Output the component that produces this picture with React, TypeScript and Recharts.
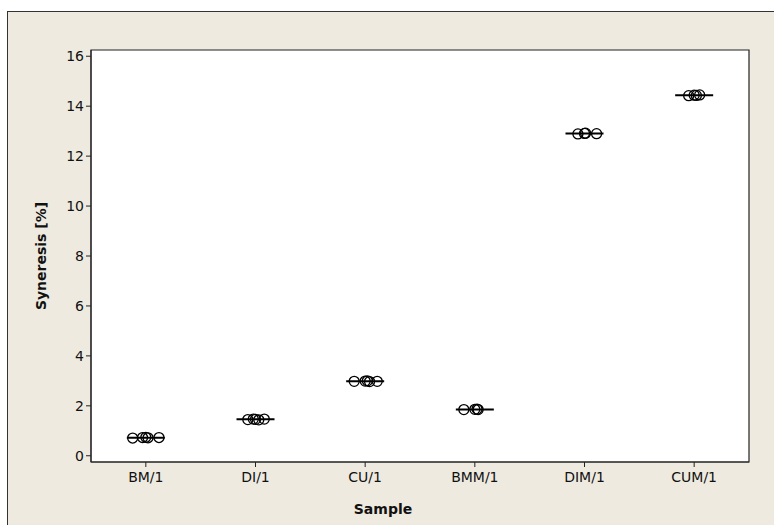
import React from 'react';
import {
  ScatterChart,
  Scatter,
  XAxis,
  YAxis,
  ReferenceArea,
} from 'recharts';

// categories on the x axis
const samples = ['BM/1', 'DI/1', 'CU/1', 'BMM/1', 'DIM/1', 'CUM/1'];

// individual measurements per sample (syneresis, %)
const bmValues = [0.71, 0.73, 0.74, 0.72, 0.73];
const diValues = [1.45, 1.47, 1.46, 1.44, 1.47];
const cuValues = [2.98, 2.99, 3.0, 2.97, 2.98];
const bmmValues = [1.85, 1.86, 1.87, 1.85];
const dimValues = [12.89, 12.91, 12.92, 12.9];
const cumValues = [14.42, 14.44, 14.43, 14.45];

// horizontal jitter of the points inside each category (category units)
const bmJitter = [-0.12, -0.03, 0.0, 0.02, 0.12];
const diJitter = [-0.07, -0.02, 0.0, 0.03, 0.08];
const cuJitter = [-0.1, 0.0, 0.02, 0.04, 0.11];
const bmmJitter = [-0.1, 0.0, 0.02, 0.03];
const dimJitter = [-0.06, 0.0, 0.01, 0.11];
const cumJitter = [-0.05, 0.0, 0.02, 0.05];

const yTicks = [0, 2, 4, 6, 8, 10, 12, 14, 16];

const groups = [
  { values: bmValues, jitter: bmJitter },
  { values: diValues, jitter: diJitter },
  { values: cuValues, jitter: cuJitter },
  { values: bmmValues, jitter: bmmJitter },
  { values: dimValues, jitter: dimJitter },
  { values: cumValues, jitter: cumJitter },
];

const points = groups.flatMap((g, i) =>
  g.values.map((v, j) => ({ x: i + g.jitter[j], y: v }))
);

const means = groups.map((g, i) => ({
  x: i,
  y: g.values.reduce((a, b) => a + b, 0) / g.values.length,
}));

const FONT = '"DejaVu Sans", Verdana, sans-serif';

const MeanMark = (props: any) => {
  const { cx, cy } = props;
  return <line x1={cx - 19} x2={cx + 19} y1={cy} y2={cy} stroke="#000" strokeWidth={2} />;
};

const Ring = (props: any) => {
  const { cx, cy } = props;
  return <circle cx={cx} cy={cy} r={5} fill="none" stroke="#000" strokeWidth={1.3} />;
};

const App = () => {
  return (
    <div style={{ position: 'absolute', left: 0, top: 0, width: 774, height: 525, background: '#fff', overflow: 'hidden' }}>
      <div
        style={{
          position: 'absolute',
          left: 7,
          top: 11,
          width: 780,
          height: 530,
          background: '#EEEAE0',
          borderTop: '1.5px solid #333',
          borderLeft: '1.5px solid #333',
        }}
      />
      <div style={{ position: 'absolute', left: 0, top: 0 }}>
        <ScatterChart
          width={774}
          height={525}
          margin={{ top: 50, right: 25, bottom: 33, left: 51 }}
          style={{ fontFamily: FONT }}
        >
          <XAxis
            type="number"
            dataKey="x"
            domain={[-0.5, 5.5]}
            ticks={[0, 1, 2, 3, 4, 5]}
            tickFormatter={(v: number) => samples[v]}
            allowDataOverflow
            height={30}
            stroke="#222"
            tickSize={5}
            tick={{ fill: '#111', fontSize: 14, fontFamily: FONT, dy: 3 }}
            label={{ value: 'Sample', position: 'insideBottom', offset: -22, dx: -37, fill: '#111', fontSize: 14, fontWeight: 'bold', fontFamily: FONT }}
          />
          <YAxis
            type="number"
            dataKey="y"
            domain={[-0.25, 16.25]}
            ticks={yTicks}
            allowDataOverflow
            width={40}
            stroke="#222"
            tickSize={5}
            tick={{ fill: '#111', fontSize: 14, fontFamily: FONT }}
            label={{ value: 'Syneresis [%]', angle: -90, position: 'insideLeft', dx: -15, fill: '#111', fontSize: 14, fontWeight: 'bold', fontFamily: FONT, style: { textAnchor: 'middle' } }}
          />
          <ReferenceArea
            x1={-0.5}
            x2={5.5}
            y1={-0.25}
            y2={16.25}
            fill="#fff"
            fillOpacity={1}
            stroke="#222"
            strokeWidth={1.2}
            ifOverflow="visible"
          />
          <Scatter data={means} shape={MeanMark} isAnimationActive={false} />
          <Scatter data={points} shape={Ring} isAnimationActive={false} />
        </ScatterChart>
      </div>
    </div>
  );
};

export default App;
